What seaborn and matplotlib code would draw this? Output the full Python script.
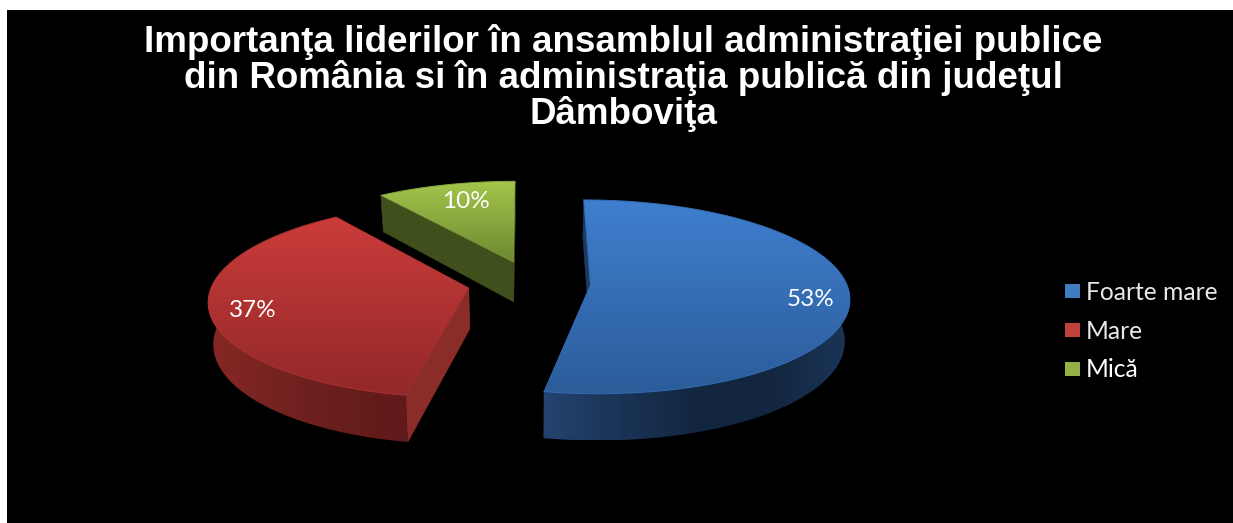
import numpy as np
import matplotlib
matplotlib.use("Agg")
import matplotlib.pyplot as plt
from matplotlib.patches import Patch, Polygon
import seaborn as sns

# Survey shares
categories = ["Foarte mare", "Mare", "Mică"]
shares = [53, 37, 10]
title_lines = [
    "Importanţa liderilor în ansamblul administraţiei publice",
    "din România si în administraţia publică din judeţul",
    "Dâmboviţa",
]

# Colour ramps for each slice: top face (back to front), rim (left to right), cut face
top_ramps = [["#3f7fcf", "#2b5c99"], ["#cb3c3a", "#922829"], ["#a3c64c", "#6e8830"]]
rim_ramps = [["#24436f", "#1a3355", "#13263f", "#13263f", "#1b3558"],
             ["#862825", "#6e201e", "#5f1a19"],
             ["#3a4a1a", "#3a4a1a"]]
cut_colours = ["#1d3a60", "#8a2c28", "#3f501d"]
legend_colours = ["#3f7cc4", "#c0403c", "#93b044"]

# Projection of the tilted disc onto the canvas
CX, CY = 529.0, 283.0
RX, RY = 256.0, 95.0
PERSPECTIVE = 0.12
DEPTH = 41.0
TAPER = 0.016
EXPLODE = 0.24
SLICE_SHIFT_X = [0.0, 0.0, 3.0]
LABEL_RADIUS = [0.83, 0.83, 0.72]
LABEL_SHIFT = [(5, 7), (-1, 5), (3, -3)]


def project(x, y, drop=0.0):
    scale = 1.0 / (1.0 - PERSPECTIVE * np.asarray(y))
    px = CX + RX * np.asarray(x) * scale * (1.0 - TAPER * drop)
    py = CY + RY * np.asarray(y) * scale + DEPTH * drop * scale
    return px, py


def shaded(ax, verts, colours, horizontal=False):
    """Fill a polygon with a linear colour ramp clipped to its outline."""
    verts = np.asarray(verts)
    ramp = np.array(sns.blend_palette(colours, n_colors=128))
    img = ramp[None, :, :] if horizontal else ramp[:, None, :]
    x0, y0 = verts.min(axis=0)
    x1, y1 = verts.max(axis=0)
    im = ax.imshow(img, extent=(x0, x1, y1, y0), origin="upper", aspect="auto",
                   interpolation="bilinear", zorder=2)
    outline = Polygon(verts, closed=True, transform=ax.transData, fc="none", ec="none")
    ax.add_patch(outline)
    im.set_clip_path(outline)


sns.set_theme(style="white")
fig = plt.figure(figsize=(12.33, 5.23), dpi=100, facecolor="white")
ax = fig.add_axes([7 / 1233, 0, 1 - 7 / 1233, 1 - 10 / 523], facecolor="black")

fractions = np.array(shares, dtype=float) / np.sum(shares)
edges = np.concatenate([[0.0], np.cumsum(fractions)]) * 2 * np.pi

# Painted back to front so nearer slices sit on top
for i in [2, 1, 0]:
    start, end = edges[i], edges[i + 1]
    mid = 0.5 * (start + end)
    ox = EXPLODE * np.sin(mid) + SLICE_SHIFT_X[i] / RX
    oy = -EXPLODE * np.cos(mid)
    theta = np.linspace(start, end, 160)
    rim_x, rim_y = ox + np.sin(theta), oy - np.cos(theta)

    top = np.column_stack(project(np.r_[ox, rim_x], np.r_[oy, rim_y]))
    low = np.column_stack(project(np.r_[ox, rim_x], np.r_[oy, rim_y], 1.0))

    # Radial cut faces
    for a, b in [(0, 1), (0, len(theta))]:
        quad = [top[a], top[b], low[b], low[a]]
        ax.add_patch(Polygon(quad, closed=True, fc=cut_colours[i], ec=cut_colours[i],
                             lw=0.4, zorder=2))

    # Outer rim, only where it faces the viewer
    visible = -np.cos(theta) > -0.25
    if visible.sum() > 1:
        rim_top = top[1:][visible]
        rim_low = low[1:][visible]
        shaded(ax, np.vstack([rim_top, rim_low[::-1]]), rim_ramps[i], horizontal=True)

    # Top face
    edge_colour = sns.blend_palette(top_ramps[i], 3)[1]
    shaded(ax, top, top_ramps[i])
    ax.plot(top[1:, 0], top[1:, 1], color=edge_colour, lw=0.7, zorder=3)
    ax.plot(top[[1, 0, -1], 0], top[[1, 0, -1], 1], color=edge_colour, lw=0.5, zorder=3)

    # Percentage label on the face
    lx, ly = project(ox + LABEL_RADIUS[i] * np.sin(mid), oy - LABEL_RADIUS[i] * np.cos(mid))
    ax.text(lx + LABEL_SHIFT[i][0], ly + LABEL_SHIFT[i][1], f"{shares[i]}%", color="white",
            fontsize=17.5, family="Lato", ha="center", va="center", zorder=5)

ax.set_xlim(7, 1233)
ax.set_ylim(523, 10)
ax.set_xticks([])
ax.set_yticks([])
sns.despine(ax=ax, left=True, bottom=True)

ax.text(623, 78, "\n".join(title_lines), color="white", fontsize=26.5, fontweight="bold",
        family="Liberation Sans", ha="center", va="center", linespacing=1.0, zorder=5)

handles = [Patch(fc=c, ec="none") for c in legend_colours]
legend = ax.legend(handles, categories, loc="center left", bbox_to_anchor=(1065, 331),
                   bbox_transform=ax.transData, frameon=False, labelcolor="#e8e8e8",
                   handlelength=0.6, handleheight=0.5, handletextpad=0.25, labelspacing=0.65,
                   borderaxespad=0, borderpad=0, prop={"family": "Lato", "size": 17.7})
legend.get_texts()[2].set_color("white")

fig.savefig("out.png", dpi=100, facecolor=fig.get_facecolor())
